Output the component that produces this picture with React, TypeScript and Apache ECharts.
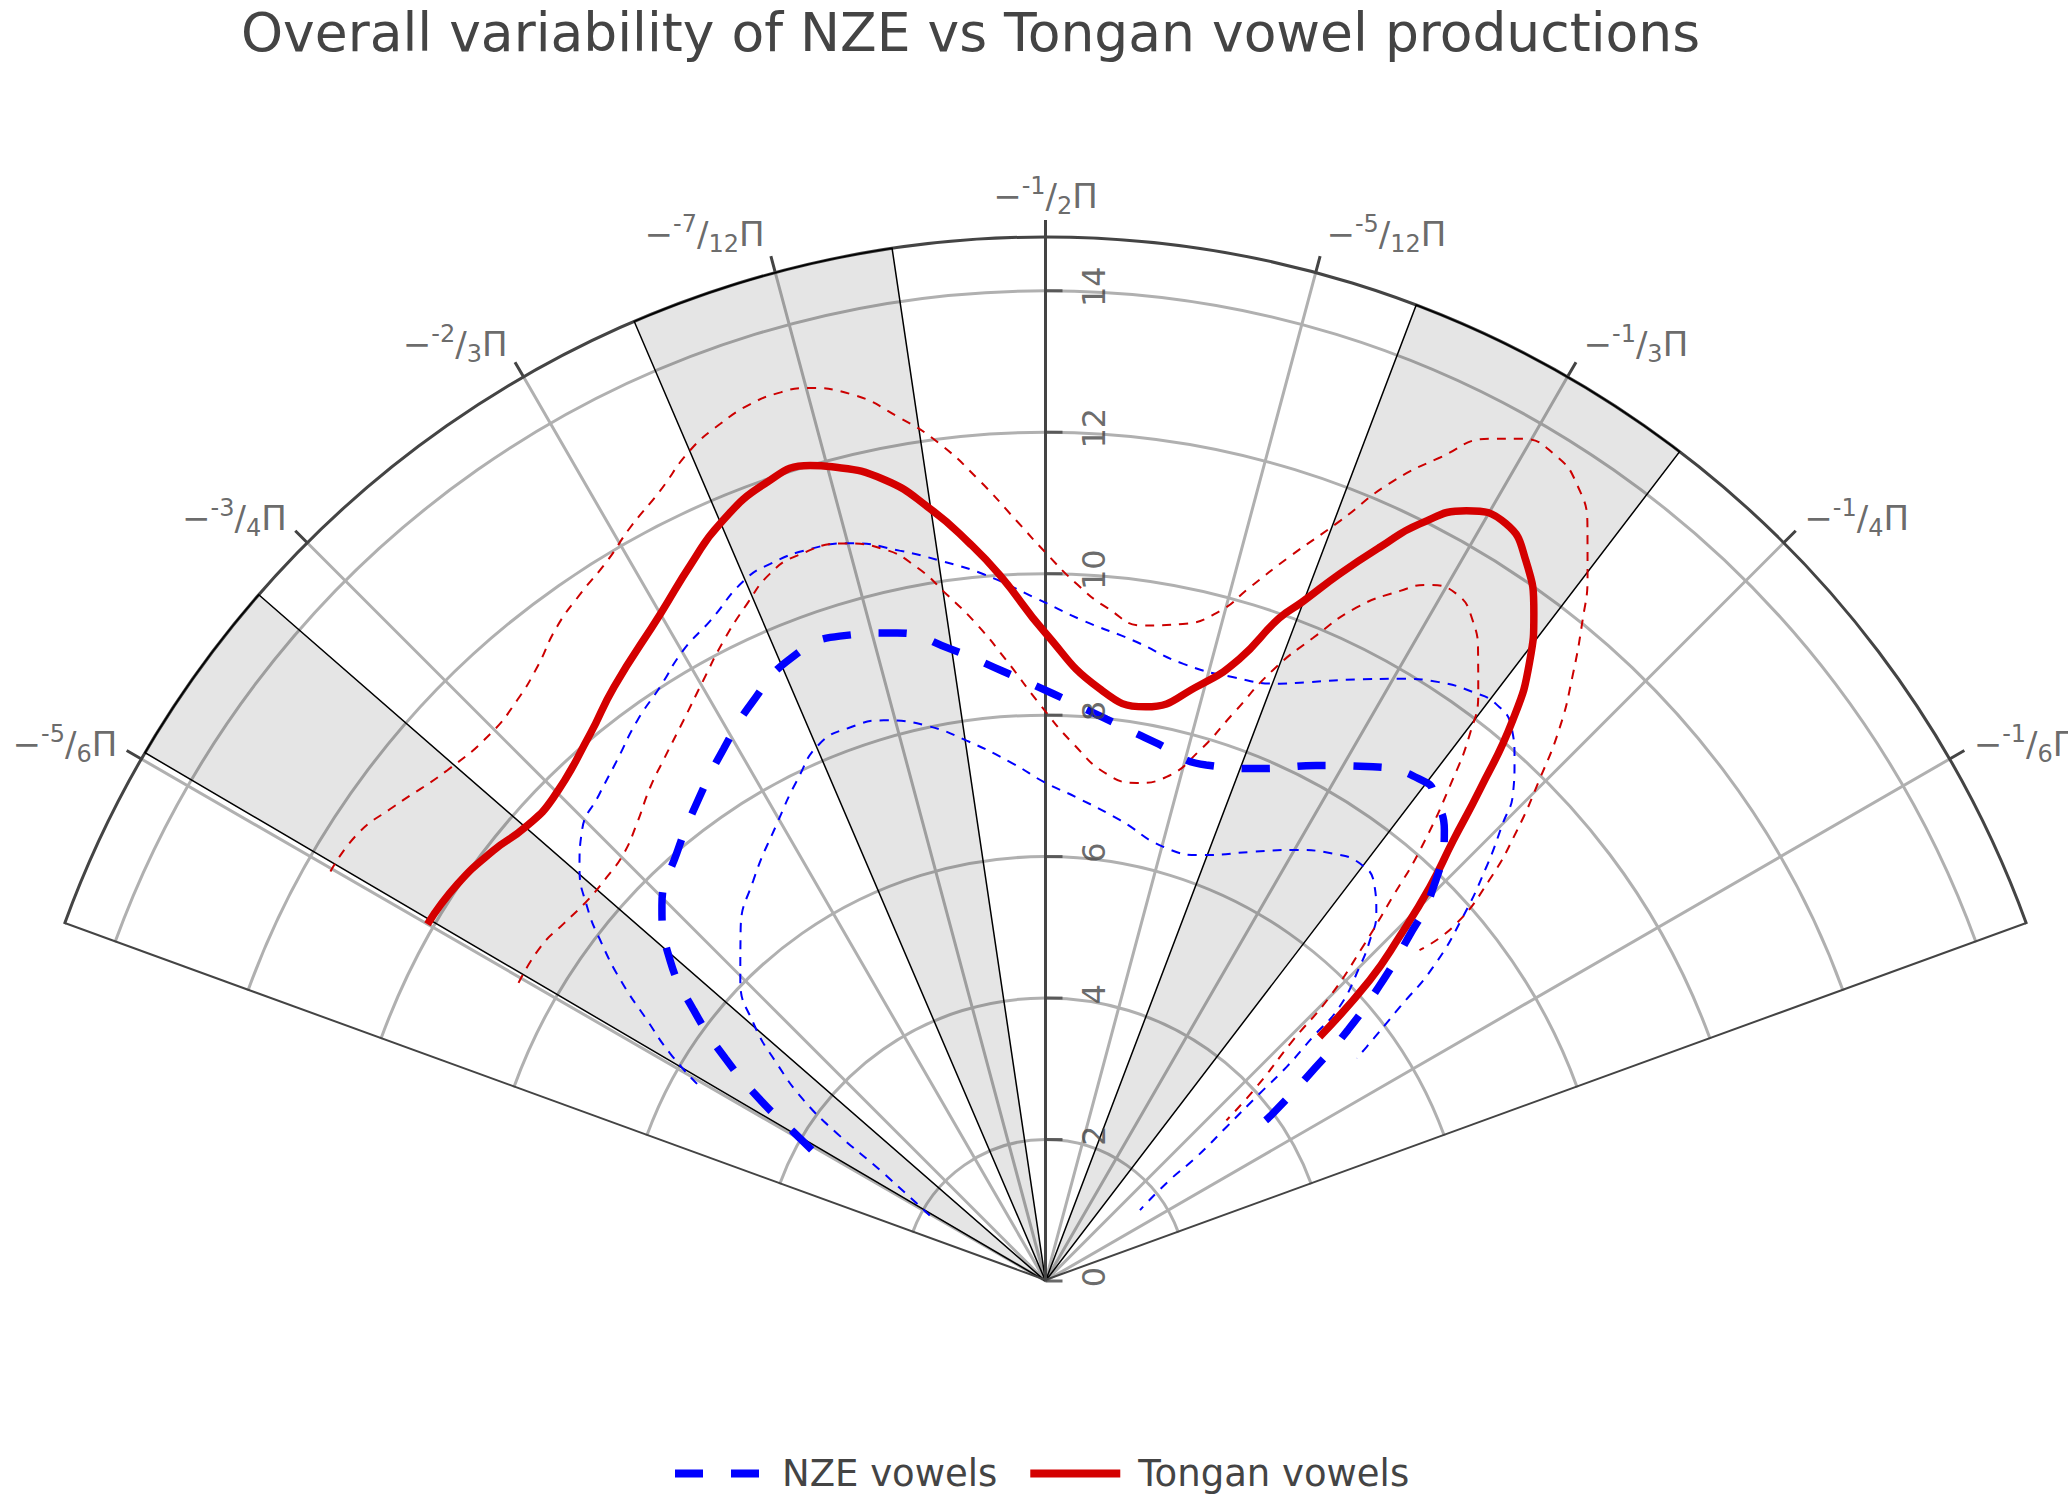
import React, { useEffect, useRef } from 'react';
import * as echarts from 'echarts';

const FONT = 'DejaVu Sans';
const TEXT = '#444';
const GRID = '#b0b0b0';

const R_MAX = 14.76;
const ANGLE_MIN = -160;
const ANGLE_MAX = -20;
const RADIAL_TICKS = [0, 2, 4, 6, 8, 10, 12, 14];
const ANGLE_TICKS = [-150, -135, -120, -105, -90, -75, -60, -45, -30];
const ANGLE_TICK_NUM = ['-5', '-3', '-2', '-7', '-1', '-5', '-1', '-1', '-1'];
const ANGLE_TICK_DEN = ['6', '4', '3', '12', '2', '12', '3', '4', '6'];

// shaded sectors [from, to] in degrees
const BANDS = [
  [-149.6, -138.9],
  [-113.2, -98.45],
  [-69.2, -52.6],
];

// [radius, angle(deg)]
const NZE_MEAN = [
  [3.79, -150.7], [4.14, -149.4], [4.74, -147.7], [5.51, -145.2], [6.28, -142.4], [6.98, -139.5],
  [7.59, -135.6], [7.99, -130.7], [8.40, -125.7], [8.79, -121.2], [9.17, -116.9], [9.51, -112.3],
  [9.57, -107.7], [9.40, -102.9], [9.04, -98.6], [8.65, -94.1], [8.30, -89.2], [7.99, -83.8],
  [7.77, -78.5], [7.64, -72.7], [7.87, -67.0], [8.23, -62.3], [8.62, -57.5], [8.87, -52.6],
  [8.78, -51.2], [8.51, -48.5], [7.75, -45.2], [7.05, -43.4], [6.31, -41.5], [5.56, -39.7],
  [4.75, -38.1], [3.96, -36.3], [3.80, -36.1],
];

const NZE_UPPER = [
  [5.66, -150.5], [6.20, -148.8], [6.73, -146.8], [7.36, -144.7], [7.92, -142.6], [8.36, -140.8],
  [8.81, -138.4], [9.14, -135.8], [9.33, -132.6], [9.53, -129.5], [9.80, -126.1], [10.01, -123.0],
  [10.28, -119.9], [10.47, -116.9], [10.78, -113.3], [10.86, -111.0], [10.87, -107.8], [10.79, -104.8],
  [10.53, -101.3], [10.29, -98.3], [10.03, -95.0], [9.67, -91.0], [9.35, -86.7], [9.14, -82.2],
  [8.94, -77.4], [8.94, -72.7], [9.07, -68.6], [9.23, -66.5], [9.57, -62.7], [9.88, -59.5],
  [10.13, -56.7], [10.29, -54.0], [10.35, -52.0], [10.23, -49.9], [9.91, -48.0], [9.55, -46.2],
  [9.14, -45.0], [8.55, -43.2], [7.83, -41.1], [7.05, -39.0], [6.33, -37.7], [5.62, -36.1],
  [5.41, -35.6],
];

const NZE_LOWER = [
  [1.88, -150.5], [2.81, -146.2], [3.61, -144.7], [4.27, -143.2], [4.89, -141.0], [5.50, -138.6],
  [6.06, -135.4], [6.57, -131.0], [7.01, -126.1], [7.50, -120.4], [7.90, -116.4], [8.24, -112.8],
  [8.30, -109.4], [8.25, -106.1], [8.03, -102.1], [7.72, -98.3], [7.33, -93.6], [7.05, -90.1],
  [6.85, -86.3], [6.60, -80.8], [6.36, -74.8], [6.42, -69.7], [6.74, -64.2], [7.03, -60.1],
  [7.28, -56.1], [7.39, -53.0], [7.29, -50.4], [6.99, -48.0], [6.65, -46.4], [6.28, -45.0],
  [5.68, -43.0], [5.12, -42.4], [4.56, -41.6], [4.03, -41.2], [3.36, -40.4], [2.76, -39.4],
  [2.26, -39.1], [1.67, -36.9],
];

const TONGAN_MEAN = [
  [10.09, -150.0], [10.03, -146.0], [9.90, -142.1], [9.76, -138.9], [9.75, -135.6], [10.06, -129.8],
  [10.38, -126.0], [10.89, -120.0], [11.32, -116.2], [11.65, -113.3], [11.95, -109.4], [12.0, -106.1],
  [11.90, -104.7], [11.56, -101.4], [11.04, -98.5], [10.49, -95.9], [10.0, -93.7], [9.18, -90.1],
  [8.41, -84.8], [8.24, -80.1], [8.70, -75.5], [9.21, -72.7], [9.93, -70.6], [10.26, -69.3],
  [10.83, -67.4], [11.40, -65.5], [11.94, -63.7], [12.41, -61.35], [12.53, -58.7], [12.24, -56.3],
  [11.69, -53.8], [11.12, -52.0], [10.32, -50.2], [9.26, -48.5], [8.48, -47.2], [7.78, -45.7],
  [6.98, -44.2], [6.25, -42.85], [5.19, -41.7],
];

const TONGAN_UPPER = [
  [11.65, -150.2], [11.60, -147.0], [11.40, -144.0], [11.12, -139.5], [11.02, -135.4], [11.10, -132.3],
  [11.27, -129.6], [11.54, -126.8], [11.73, -124.1], [11.92, -121.3], [12.16, -118.9], [12.43, -116.0],
  [12.77, -113.2], [12.96, -110.8], [13.08, -108.6], [13.11, -106.6], [13.07, -105.0], [12.84, -102.4],
  [12.38, -99.6], [11.93, -97.2], [11.35, -94.7], [10.76, -92.2], [10.28, -89.9], [9.86, -87.4],
  [9.56, -84.8], [9.37, -81.5], [9.49, -78.2], [9.79, -75.4], [10.22, -73.6], [10.80, -71.4],
  [11.53, -68.8], [12.27, -66.7], [12.91, -64.4], [13.46, -62.2], [13.68, -60.5], [13.72, -58.3],
  [13.54, -56.3], [13.13, -54.3], [12.56, -52.4], [12.04, -50.9], [11.33, -48.9], [10.68, -47.1],
  [9.94, -45.4], [9.22, -43.7], [8.46, -42.1], [7.66, -41.0], [7.06, -41.5],
];

const TONGAN_LOWER = [
  [8.56, -150.5], [8.56, -146.5], [8.48, -143.4], [8.42, -140.3], [8.43, -137.4], [8.49, -134.6],
  [8.67, -131.8], [8.94, -128.7], [9.13, -126.3], [9.43, -122.9], [9.77, -119.7], [10.13, -116.7],
  [10.46, -113.8], [10.73, -111.3], [10.84, -108.9], [10.81, -105.3], [10.60, -102.5], [10.25, -100.2],
  [9.81, -98.2], [9.34, -96.0], [8.79, -93.6], [8.16, -90.6], [7.60, -87.0], [7.22, -83.1],
  [7.16, -79.6], [7.33, -76.5], [7.81, -73.8], [8.45, -71.7], [9.21, -69.6], [9.85, -67.4],
  [10.49, -65.2], [10.97, -62.8], [11.22, -61.3], [11.32, -59.1], [11.12, -57.1], [10.77, -55.4],
  [10.31, -53.6], [9.79, -52.2], [9.12, -50.9], [8.07, -49.0], [7.32, -47.9], [6.52, -46.5],
  [5.68, -45.0], [4.88, -44.2], [4.05, -42.6], [3.42, -41.6],
];

const BLUE = '#0000ff';
const RED = '#d40000';
const RED_THIN = '#cc0000';

function buildOption(): any {
  const rich = {
    m: { fontSize: 34, lineHeight: 44, color: TEXT, fontFamily: FONT },
    sup: { fontSize: 24, lineHeight: 24, verticalAlign: 'top', color: TEXT, fontFamily: FONT },
    sub: { fontSize: 24, lineHeight: 24, verticalAlign: 'bottom', color: TEXT, fontFamily: FONT },
  };

  const angleLabelData = ANGLE_TICKS.map((t, i) => {
    const a = (-t * Math.PI) / 180;
    const c = Math.cos(a);
    const s = Math.sin(a);
    const vertical = Math.abs(c) < 0.01;
    const dx = vertical ? 0 : Math.sign(c) * (5 + 22 * Math.abs(c));
    const dy = -20 * s - 21 * s * s;
    return {
      value: [R_MAX, t],
      label: {
        show: true,
        position: 'inside',
        align: vertical ? 'center' : c > 0 ? 'left' : 'right',
        verticalAlign: 'middle',
        offset: [dx, dy],
        formatter: `{m|−}{sup|${ANGLE_TICK_NUM[i]}}{m|/}{sub|${ANGLE_TICK_DEN[i]}}{m|Π}`,
        rich,
      },
    };
  });

  const thin = (name: string, data: number[][], color: string) => ({
    name,
    type: 'line',
    coordinateSystem: 'polar',
    data,
    smooth: true,
    symbol: 'none',
    silent: true,
    z: 3,
    lineStyle: { color, width: 2, type: [9, 8] },
    itemStyle: { color },
  });

  const edge = (name: string, data: number[][], width: number) => ({
    name,
    type: 'line',
    coordinateSystem: 'polar',
    data,
    symbol: 'none',
    silent: true,
    clip: false,
    z: 2,
    lineStyle: { color: TEXT, width },
    itemStyle: { color: TEXT },
  });

  return {
    animation: false,
    backgroundColor: '#fff',
    textStyle: { fontFamily: FONT },
    title: {
      text: 'Overall variability of NZE vs Tongan vowel productions',
      left: 236,
      top: 0,
      textStyle: { fontSize: 53.5, fontWeight: 'normal', color: TEXT, fontFamily: FONT },
    },
    legend: {
      data: [
        {
          name: 'NZE vowels',
          icon: 'path://M0,0h28v8h-28zM56,0h28v8h-28z',
          textStyle: { fontSize: 37, color: TEXT, fontFamily: FONT, padding: [0, 0, 0, 15] },
        },
        {
          name: 'Tongan vowels',
          icon: 'rect',
          textStyle: { fontSize: 37, color: TEXT, fontFamily: FONT, padding: [0, 0, 0, 13] },
        },
      ],
      left: 670,
      top: 1450,
      itemWidth: 90,
      itemHeight: 8,
      itemGap: 33,
      textStyle: { fontSize: 37, color: TEXT, fontFamily: FONT },
    },
    polar: { center: [1045.5, 1281], radius: 1044 },
    angleAxis: {
      type: 'value',
      min: ANGLE_MIN,
      max: ANGLE_MAX,
      startAngle: 160,
      endAngle: 20,
      clockwise: true,
      axisLine: { show: true, lineStyle: { color: TEXT, width: 3 } },
      axisTick: { show: true, customValues: ANGLE_TICKS, length: 17, lineStyle: { color: TEXT, width: 3 } },
      axisLabel: { show: false, customValues: ANGLE_TICKS },
      splitLine: { show: true, lineStyle: { color: GRID, width: 3 } },
    },
    radiusAxis: {
      type: 'value',
      min: 0,
      max: R_MAX,
      axisLine: { show: false },
      axisTick: { show: false, customValues: RADIAL_TICKS },
      axisLabel: { show: false, customValues: RADIAL_TICKS },
      splitLine: { show: true, lineStyle: { color: GRID, width: 3 } },
    },
    series: [
      {
        name: 'bands',
        type: 'custom',
        coordinateSystem: 'polar',
        silent: true,
        z: 1,
        data: BANDS.map((b) => [R_MAX, b[0], b[1]]),
        renderItem: (params: any, api: any) => {
          const cs = params.coordSys;
          const r = api.value(0);
          const p0 = api.coord([r, api.value(1)]);
          const p1 = api.coord([r, api.value(2)]);
          const a0 = Math.atan2(p0[1] - cs.cy, p0[0] - cs.cx);
          const a1 = Math.atan2(p1[1] - cs.cy, p1[0] - cs.cx);
          const rr = Math.hypot(p0[0] - cs.cx, p0[1] - cs.cy);
          return {
            type: 'sector',
            shape: { cx: cs.cx, cy: cs.cy, r0: 0, r: rr, startAngle: a0, endAngle: a1, clockwise: true },
            style: { fill: 'rgba(0,0,0,0.1)', stroke: '#000', lineWidth: 1.5 },
          };
        },
      },
      edge('edgeMin', [[0, ANGLE_MIN], [R_MAX, ANGLE_MIN]], 4),
      edge('edgeMax', [[0, ANGLE_MAX], [R_MAX, ANGLE_MAX]], 4),
      edge('radialAxis', [[0, -90], [R_MAX, -90]], 3),
      thin('NZE upper', NZE_UPPER, BLUE),
      thin('NZE lower', NZE_LOWER, BLUE),
      thin('Tongan upper', TONGAN_UPPER, RED_THIN),
      thin('Tongan lower', TONGAN_LOWER, RED_THIN),
      {
        name: 'Tongan vowels',
        type: 'line',
        coordinateSystem: 'polar',
        data: TONGAN_MEAN,
        smooth: true,
        symbol: 'none',
        z: 4,
        lineStyle: { color: RED, width: 7.5 },
        itemStyle: { color: RED },
      },
      {
        name: 'NZE vowels',
        type: 'line',
        coordinateSystem: 'polar',
        data: NZE_MEAN,
        smooth: true,
        symbol: 'none',
        z: 5,
        lineStyle: { color: BLUE, width: 7.5, type: [28, 28] },
        itemStyle: { color: BLUE },
      },
      {
        name: 'radialTicks',
        type: 'scatter',
        coordinateSystem: 'polar',
        silent: true,
        z: 6,
        symbol: 'rect',
        symbolSize: [17, 3],
        symbolOffset: [8.5, 0],
        itemStyle: { color: TEXT },
        data: RADIAL_TICKS.map((v) => [v, -90]),
        label: {
          show: true,
          position: 'inside',
          offset: [4, 39.5],
          rotate: 90,
          align: 'center',
          verticalAlign: 'middle',
          fontSize: 32,
          color: TEXT,
          fontFamily: FONT,
          formatter: (p: any) => String(p.value[0]),
        },
      },
      {
        name: 'angleLabels',
        type: 'scatter',
        coordinateSystem: 'polar',
        silent: true,
        z: 6,
        symbolSize: 1,
        itemStyle: { color: 'rgba(0,0,0,0)' },
        data: angleLabelData,
      },
    ],
  };
}

export default function App() {
  const ref = useRef<HTMLDivElement>(null);
  useEffect(() => {
    document.body.style.margin = '0';
    if (!ref.current) return;
    const chart = echarts.init(ref.current, null, { renderer: 'svg' });
    chart.setOption(buildOption());
    return () => chart.dispose();
  }, []);
  return (
    <div
      ref={ref}
      style={{ position: 'absolute', left: 0, top: 0, width: 2068, height: 1501, background: '#fff' }}
    />
  );
}
